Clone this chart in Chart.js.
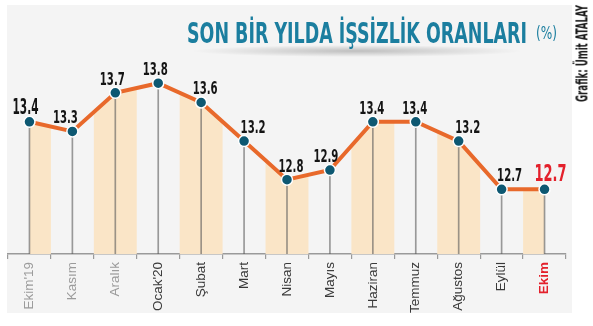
<!DOCTYPE html>
<html><head><meta charset="utf-8">
<script src="https://cdn.jsdelivr.net/npm/chart.js@4"></script>
<style>
html,body{margin:0;padding:0;background:#fff;width:593px;height:326px;overflow:hidden;position:relative;}
#panel{position:absolute;left:7px;top:5px;width:565px;height:308px;background:#f4f4f4;}
#shadow{position:absolute;left:192px;top:45px;width:330px;height:12px;background:radial-gradient(ellipse closest-side,rgba(0,0,0,0.22),rgba(0,0,0,0));}
#c{position:absolute;left:0;top:0;}
.t{position:absolute;white-space:nowrap;transform-origin:0 0;font-family:"Liberation Sans Narrow","DejaVu Sans Condensed","Liberation Sans",sans-serif;}
#title{left:187px;top:18.5px;color:#1b7e9f;font-weight:bold;font-size:29px;line-height:29px;}
#pct{left:536px;top:24.5px;color:#1b7e9f;font-size:17px;line-height:17px;}
#credit{color:#1a1a1a;font-weight:bold;font-size:15px;line-height:15px;transform-origin:50% 50%;}
</style>
</head><body>
<div id="panel"></div>
<div id="shadow"></div>
<canvas id="c" width="593" height="326"></canvas>
<div class="t" id="title">SON BİR YILDA İŞSİZLİK ORANLARI</div>
<div class="t" id="pct">(%)</div>
<div class="t" id="credit">Grafik: Ümit ATALAY</div>
<script>
const categories = ["Ekim'19","Kasım","Aralık","Ocak'20","Şubat","Mart","Nisan","Mayıs","Haziran","Temmuz","Ağustos","Eylül","Ekim"];
const rates = [13.4,13.3,13.7,13.8,13.6,13.2,12.8,12.9,13.4,13.4,13.2,12.7,12.7];
const yMin = 12.03;
const yMax = 14.03;

// text fitting
function fitW(id, w){
  const el = document.getElementById(id);
  const r = el.getBoundingClientRect().width;
  el.style.transform = 'scaleX(' + (w / r) + ')';
}
fitW('title', 340);
fitW('pct', 21);
(function(){
  const el = document.getElementById('credit');
  const w = el.offsetWidth, h = el.offsetHeight;
  el.style.left = (583 - w / 2) + 'px';
  el.style.top = (53.5 - h / 2) + 'px';
  el.style.transform = 'rotate(-90deg) scaleX(' + (97 / w) + ')';
})();

const bandShade = {
  id: 'bandShade',
  beforeDatasetsDraw(chart) {
    const x = chart.scales.x, area = chart.chartArea, ctx = chart.ctx;
    const half = (x.getPixelForValue(1) - x.getPixelForValue(0)) / 2;
    ctx.save();
    ctx.beginPath();
    categories.forEach((c, i) => {
      if (i % 2 === 0) {
        const cx = x.getPixelForValue(i);
        ctx.rect(cx - half, area.top, half * 2, area.bottom - area.top);
      }
    });
    ctx.clip();
  },
  afterDatasetDraw(chart, args) {
    if (args.index === 2) chart.ctx.restore();
  }
};

const valueLabels = {
  id: 'valueLabels',
  afterDatasetsDraw(chart) {
    const meta = chart.getDatasetMeta(0), ctx = chart.ctx;
    const dx = [-4, -7, -3, -3, 4, 9, 4, -4, -1, -1, 9, 8, 6];
    ctx.save();
    ctx.textAlign = 'center';
    ctx.textBaseline = 'alphabetic';
    const n = meta.data.length;
    meta.data.forEach((pt, i) => {
      const first = i === 0, last = i === n - 1;
      const size = first ? 21 : (last ? 23 : 17.5);
      ctx.font = 'bold ' + size + 'px "Liberation Sans Narrow", "DejaVu Sans Condensed", "Liberation Sans", sans-serif';
      ctx.fillStyle = last ? '#e3202b' : '#141414';
      ctx.fillText(rates[i].toFixed(1), pt.x + dx[i], pt.y - 8, first ? 26 : (last ? 32 : 25));
    });
    ctx.restore();
  }
};

new Chart(document.getElementById('c'), {
  type: 'line',
  data: {
    labels: categories,
    datasets: [
      {
        type: 'line', data: rates,
        borderColor: '#e8692b', borderWidth: 4, tension: 0, fill: false,
        pointRadius: 5.5, pointBackgroundColor: '#0d5872', pointBorderColor: '#ffffff', pointBorderWidth: 1.5
      },
      {
        type: 'bar', data: rates,
        backgroundColor: 'rgba(90,90,90,0.6)', barThickness: 1
      },
      {
        type: 'line', data: rates,
        borderWidth: 0, pointRadius: 0, fill: 'start', backgroundColor: '#fae5c7', tension: 0
      }
    ]
  },
  options: {
    responsive: false,
    animation: false,
    events: [],
    layout: { padding: { left: 8, right: 27, top: 61, bottom: 0 } },
    plugins: { legend: { display: false }, tooltip: { enabled: false }, title: { display: false } },
    scales: {
      x: {
        offset: true,
        grid: { offset: true, drawOnChartArea: false, drawTicks: true, tickLength: 5, color: '#9a9a9a', lineWidth: 1.2 },
        border: { color: '#9a9a9a', width: 1.5 },
        ticks: {
          autoSkip: false, minRotation: 90, maxRotation: 90, padding: 3,
          font: (ctx) => ({ family: '"Liberation Sans", sans-serif', size: 13.5, weight: ctx.index === categories.length - 1 ? 'bold' : 'normal' }),
          color: (ctx) => ctx.index === categories.length - 1 ? '#e3202b' : (ctx.index < 3 ? '#9b9b9b' : '#3a3a3a')
        },
        afterFit(scale) { scale.height = 72; }
      },
      y: { display: false, min: yMin, max: yMax }
    }
  },
  plugins: [bandShade, valueLabels]
});
</script>
</body></html>
